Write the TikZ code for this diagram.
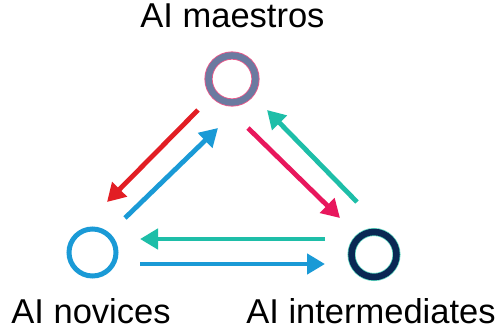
\documentclass[tikz,border=0pt]{standalone}
\usepackage{fontspec}
\setmainfont{Liberation Sans}
\usetikzlibrary{arrows.meta}
\definecolor{cgray}{RGB}{107,122,160}
\definecolor{cpinkglow}{RGB}{235,90,140}
\definecolor{cblue}{RGB}{26,154,214}
\definecolor{cnavy}{RGB}{10,40,84}
\definecolor{ctealglow}{RGB}{90,210,190}
\definecolor{cred}{RGB}{226,30,36}
\definecolor{cpink}{RGB}{232,23,93}
\definecolor{cteal}{RGB}{30,190,168}
\tikzset{
  ring/.style={circle, inner sep=0pt, minimum size=#1},
  arr/.style={line width=4.8pt, -{Triangle[length=18pt,width=20pt]}, shorten >=0pt},
  lbl/.style={anchor=base, font=\fontsize{34.5}{38}\selectfont, text=black, inner sep=0pt}
}
\begin{document}
\begin{tikzpicture}[x=1pt,y=-1pt]
\useasboundingbox (0,0) rectangle (503,333);
% circles
\node[ring=47pt, draw=cpinkglow, line width=8.2pt] (mg) at (232,79) {};
\node[ring=47pt, draw=cgray, line width=6.5pt] (m) at (232,79) {};
\node[ring=47pt, draw=cblue, line width=5pt] (n) at (92.5,252.5) {};
\node[ring=45pt, draw=ctealglow, line width=8pt] (ig) at (374,254.5) {};
\node[ring=45pt, draw=cnavy, line width=6.5pt] (i) at (374,254.5) {};
% labels
\node[lbl] (tm) at (232.5,27) {AI maestros};
\node[lbl] (tn) at (91,323) {AI novices};
\node[lbl] (ti) at (371,323) {AI intermediates};
% arrow endpoints
\coordinate (r1) at (198,110); \coordinate (r2) at (107,202);
\coordinate (b1) at (125,218); \coordinate (b2) at (218,128);
\coordinate (p1) at (248,128); \coordinate (p2) at (340,218);
\coordinate (t1) at (357,202); \coordinate (t2) at (267,110);
\coordinate (h1) at (325,239); \coordinate (h2) at (140,239);
\coordinate (g1) at (140,264); \coordinate (g2) at (325,264);
% arrows
\draw[arr, cred] (r1) -- (r2);
\draw[arr, cblue] (b1) -- (b2);
\draw[arr, cpink] (p1) -- (p2);
\draw[arr, cteal] (t1) -- (t2);
\draw[arr, cteal] (h1) -- (h2);
\draw[arr, cblue] (g1) -- (g2);
\end{tikzpicture}
\end{document}
